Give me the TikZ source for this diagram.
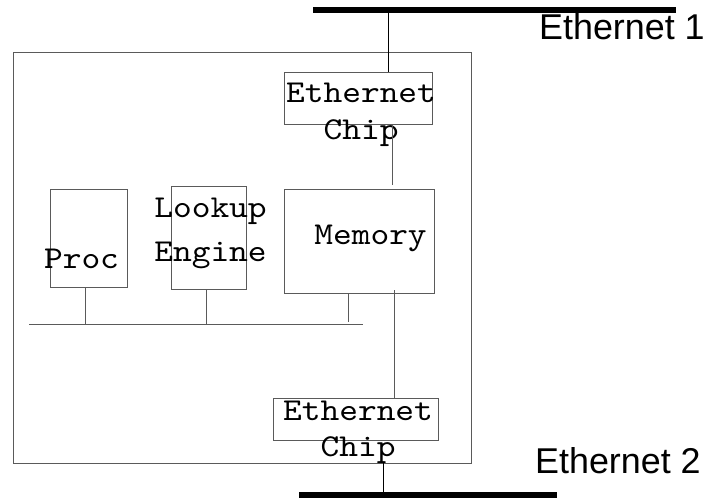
\documentclass[tikz,border=0pt]{standalone}
\usepackage{fontspec}
\newfontfamily\netfont{Liberation Sans}
\newfontfamily\chipfont{lmmono10-regular}[Extension=.otf, FakeStretch=1.12]
\definecolor{wiregray}{RGB}{90, 90, 90}
\definecolor{busblack}{RGB}{0, 0, 0}
\usetikzlibrary{positioning, calc}

\begin{document}
\begin{tikzpicture}[x=1bp, y=-1bp,
  unitbox/.style={draw=wiregray, line width=0.9bp, inner sep=0pt},
  wire/.style={draw=wiregray, line width=0.9bp},
  ethbar/.style={draw=busblack, line width=6.5bp},
  chiptext/.style={font=\chipfont\fontsize{32}{38}\selectfont, inner sep=0pt, align=center, anchor=base},
  nettext/.style={font=\netfont\fontsize{36}{40}\selectfont, inner sep=0pt, anchor=base west}]
  \useasboundingbox (0,0) rectangle (707,498);

  % Ethernet segments
  \draw[ethbar] (313,10) coordinate (eth1w) -- (676,10) coordinate (eth1e);
  \draw[ethbar] (299,495) coordinate (eth2w) -- (557,495) coordinate (eth2e);
  \coordinate (tap1) at (388,10);
  \coordinate (tap2) at (383,495);
  \node[nettext] (eth1) at (539,40) {Ethernet 1};
  \node[nettext] (eth2) at (535,473) {Ethernet 2};

  % Router and its parts
  \node[unitbox, minimum width=458bp, minimum height=411bp] (router) at (242,257.5) {};
  \node[unitbox, minimum width=148bp, minimum height=52bp] (chip1) at (358,98) {};
  \node[unitbox, minimum width=150bp, minimum height=104bp] (mem) at (359,241) {};
  \node[unitbox, minimum width=77bp, minimum height=98bp] (proc) at (88.5,238) {};
  \node[unitbox, minimum width=75bp, minimum height=103bp] (lookup) at (208.5,237.5) {};
  \node[unitbox, minimum width=165bp, minimum height=42bp] (chip2) at (355.5,419) {};

  % Labels (base = last line)
  \node[chiptext] (chip1txt) at (361,140) {Ethernet\\Chip};
  \node[chiptext] (memtxt) at (370.5,245) {Memory};
  \node[chiptext] (proctxt) at (81.5,269) {Proc};
  \node[chiptext] (lookuptxt) at (210.5,262) {Lookup\\[7bp]Engine};
  \node[chiptext] (chip2txt) at (358,456) {Ethernet\\[-2bp]Chip};

  % Internal bus
  \coordinate (busw) at (29,324);
  \coordinate (buse) at (363,324);
  \draw[wire] (busw) -- (buse);
  \draw[wire] ([xshift=-3.5bp]proc.south) -- ([xshift=-3.5bp]proc.south |- busw);
  \draw[wire] ([xshift=-2.5bp]lookup.south) -- ([xshift=-2.5bp]lookup.south |- busw);
  \draw[wire] ([xshift=-11bp]mem.south) -- ([xshift=-11bp,yshift=2bp]mem.south |- busw);

  % Links
  \draw[black, line width=0.9bp] (tap1) -- (tap1 |- chip1.north);
  \draw[wire] ([xshift=34bp]chip1.south) -- ([xshift=34bp,yshift=4bp]chip1.south |- mem.north);
  \draw[wire] ([xshift=35bp,yshift=3bp]mem.south) -- ([xshift=35bp]mem.south |- chip2.north);
  \draw[black, line width=0.9bp] (tap2 |- router.south) -- (tap2);
\end{tikzpicture}
\end{document}
